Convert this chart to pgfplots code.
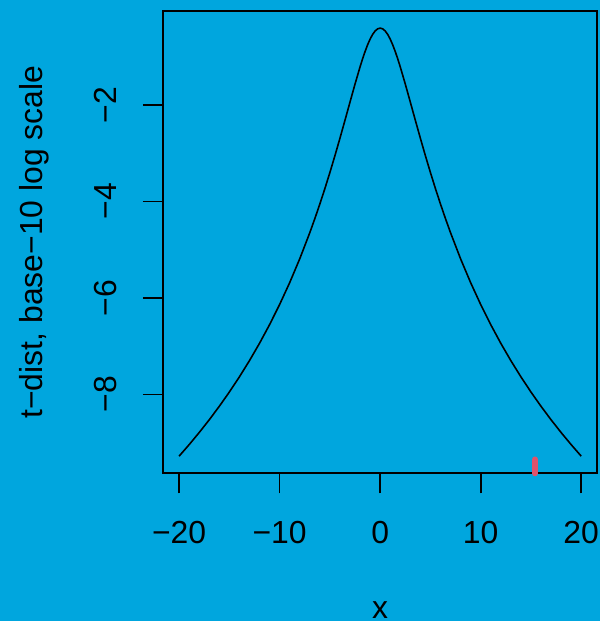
\documentclass[border=0pt]{standalone}
\usepackage{pgfplots}
\pgfplotsset{compat=1.18}
\usepackage{pgfplotstable}
\usepackage{fontspec}
\setmainfont{Liberation Sans}
\definecolor{bgblue}{RGB}{0,166,222}
\definecolor{rugred}{RGB}{223,83,107}
\pgfplotstableread{
x y
-20 -9.2802
-19 -9.0415
-18 -8.7905
-17 -8.5261
-16 -8.2468
-15 -7.9508
-14 -7.6362
-13 -7.3006
-12 -6.9413
-11 -6.5549
-10 -6.1376
-9 -5.6847
-8 -5.1907
-7 -4.6496
-6.5 -4.3594
-6 -4.0551
-5.5 -3.7361
-5 -3.4023
-4.5 -3.0539
-4 -2.6923
-3.5 -2.3203
-3 -1.9431
-2.5 -1.5696
-2 -1.2136
-1.75 -1.0481
-1.5 -0.8947
-1.25 -0.7567
-1 -0.6376
-0.75 -0.5406
-0.5 -0.4689
-0.25 -0.4248
0 -0.4099
0.25 -0.4248
0.5 -0.4689
0.75 -0.5406
1 -0.6376
1.25 -0.7567
1.5 -0.8947
1.75 -1.0481
2 -1.2136
2.5 -1.5696
3 -1.9431
3.5 -2.3203
4 -2.6923
4.5 -3.0539
5 -3.4023
5.5 -3.7361
6 -4.0551
6.5 -4.3594
7 -4.6496
8 -5.1907
9 -5.6847
10 -6.1376
11 -6.5549
12 -6.9413
13 -7.3006
14 -7.6362
15 -7.9508
16 -8.2468
17 -8.5261
18 -8.7905
19 -9.0415
20 -9.2802
}\tdist
\pgfplotstableread{
x y
15.41 -9.635
15.41 -9.348
}\rug
\begin{document}
\begin{tikzpicture}[x=1bp,y=1bp]
\fill[bgblue] (0,0) rectangle (600,621);
\begin{axis}[
  at={(163bp,147.7bp)}, anchor=south west,
  scale only axis, width=434.3bp, height=462.3bp,
  xmin=-21.6, xmax=21.6, ymin=-9.635, ymax=-0.055,
  clip=false,
  axis line style={line width=1.7bp, black},
  tick style={line width=1.7bp, black},
  tick align=outside, tick pos=left, major tick length=20bp,
  xtick={-20,-10,0,10,20}, xticklabels={−20,−10,0,10,20},
  ytick={-8,-6,-4,-2}, yticklabels={−8,−6,−4,−2},
  font=\fontsize{32}{38}\selectfont,
  xticklabel style={anchor=base, inner sep=0pt, yshift=-50.7bp},
  yticklabel style={xshift=-26bp, rotate=90, anchor=base, inner sep=0pt},
  every axis x label/.style={at={(axis description cs:0.5,0)}, anchor=base, yshift=-145bp, inner sep=0pt},
  every axis y label/.style={at={(axis description cs:0,0.5)}, xshift=-120.5bp, rotate=90, anchor=base, inner sep=0pt},
  xlabel={x},
  ylabel={t−dist, base−10 log scale},
]
\addplot[black, line width=1.6bp, line join=round] table {\tdist};
\addplot[rugred, line width=6bp, line cap=round] table {\rug};
\end{axis}
\pgfresetboundingbox
\path[use as bounding box] (0,0) rectangle (600,621);
\end{tikzpicture}
\end{document}
